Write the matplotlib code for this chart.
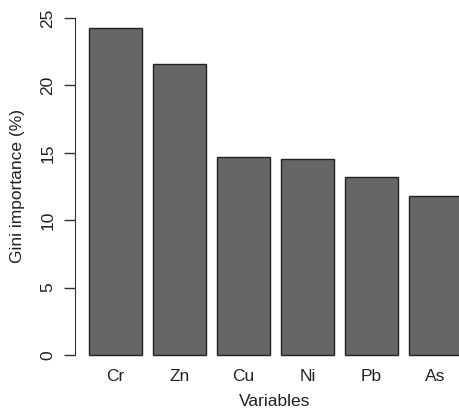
import numpy as np
import matplotlib.pyplot as plt

# Gini importance per variable
variables = ['Cr', 'Zn', 'Cu', 'Ni', 'Pb', 'As']
importance = [24.26, 21.6, 14.69, 14.54, 13.2, 11.8]

plt.rcParams['font.family'] = ['Liberation Sans', 'DejaVu Sans']

W, H = 459, 413
fig = plt.figure(figsize=(W / 100, H / 100), dpi=100)

# axes box in pixels (R-like plot region, right side cropped)
left_px, right_px = 75, 459
top_px, bottom_px = 5, 368
ax = fig.add_axes([left_px / W, 1 - bottom_px / H,
                   (right_px - left_px) / W, (bottom_px - top_px) / H])

# R barplot layout: width 1, space 0.2
centers = 0.7 + 1.2 * np.arange(len(variables))
ax.bar(centers, importance, width=1.0, color='#666666',
       edgecolor='#222222', linewidth=1.0)

ax.set_xlim(-0.0625, 7.14)
ax.set_ylim(-0.97, 25.97)

for s in ['top', 'right', 'bottom']:
    ax.spines[s].set_visible(False)
ax.spines['left'].set_bounds(0, 25)
ax.spines['left'].set_color('#333333')

ax.set_yticks([0, 5, 10, 15, 20, 25])
ax.set_yticklabels(['0', '5', '10', '15', '20', '25'], rotation=90,
                   va='center', fontsize=12.5, color='#222222')
ax.tick_params(axis='y', length=8, width=1, color='#333333', pad=6)

ax.set_xticks(centers)
ax.set_xticklabels(variables, fontsize=12.5, color='#222222')
ax.tick_params(axis='x', length=0, pad=1)

ax.set_xlabel('Variables', fontsize=12.5, color='#222222')
ax.xaxis.set_label_coords((275 - left_px) / (right_px - left_px),
                          -(402 - bottom_px) / (bottom_px - top_px))
ax.set_ylabel('Gini importance (%)', fontsize=12.5, color='#222222')
ax.yaxis.set_label_coords(-(left_px - 18) / (right_px - left_px),
                          (bottom_px - 186) / (bottom_px - top_px))
ax.xaxis.label.set_va('center')
ax.yaxis.label.set_va('center')

fig.savefig('out.png', dpi=100)
